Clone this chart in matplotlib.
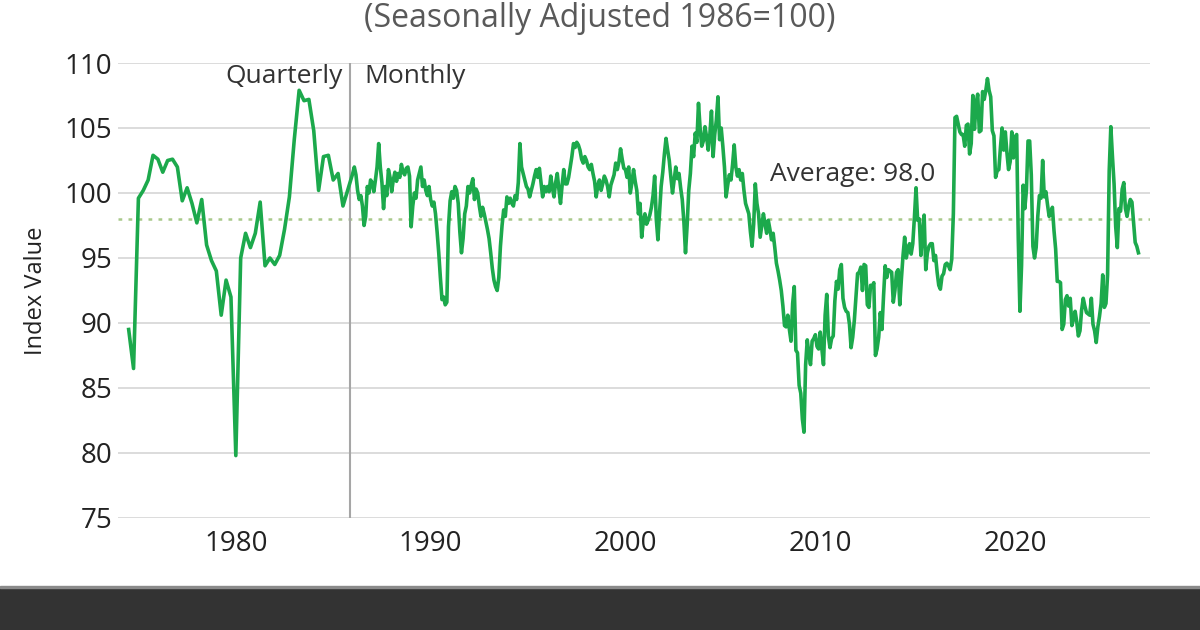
import numpy as np
import matplotlib.pyplot as plt
from matplotlib.patches import Rectangle

# Small business optimism index
# quarterly survey 1974-1985, monthly from Jan 1986
quarter_start = 1974.5
quarterly_values = [89.5, 86.5, 99.6, 100.2, 101.0, 102.9, 102.6, 101.6, 102.5, 102.6,
                    102.0, 99.4, 100.4, 99.2, 97.7, 99.5, 96.0, 94.8, 94.0, 90.6,
                    93.3, 92.0, 79.8, 95.0, 96.9, 95.8, 96.9, 99.3, 94.4, 95.0,
                    94.5, 95.2, 97.2, 99.7, 104.1, 107.9, 107.1, 107.2, 104.8, 100.2,
                    102.8, 102.9, 101.0, 101.5, 99.0]

month_start = 1986
monthly_values = [
    101.5, 102.0, 101.4, 100.2, 99.5, 99.8, 99.0, 97.5, 98.2, 100.5, 100.0, 101.0,   # 1986
    100.8, 100.1, 101.0, 102.0, 103.8, 102.0, 100.8, 98.8, 100.5, 99.8, 101.8, 101.2,  # 1987
    100.1, 101.0, 101.6, 100.9, 101.5, 101.2, 102.2, 101.6, 101.4, 101.9, 102.0, 101.3,  # 1988
    97.4, 99.0, 100.0, 99.6, 101.0, 101.5, 102.0, 100.5, 101.0, 100.2, 99.8, 100.5,   # 1989
    99.5, 99.0, 99.3, 98.4, 97.0, 95.4, 93.5, 91.8, 92.0, 91.4, 91.6, 97.4,          # 1990
    99.4, 100.1, 99.6, 100.5, 100.2, 99.2, 97.0, 95.4, 96.5, 98.4, 99.0, 100.5,       # 1991
    100.0, 100.6, 101.1, 99.5, 100.3, 100.0, 99.0, 98.2, 98.9, 98.4, 97.8, 97.2,      # 1992
    96.5, 95.4, 94.2, 93.3, 92.8, 92.5, 93.5, 95.9, 97.5, 98.7, 98.2, 99.7,           # 1993
    99.2, 99.6, 99.2, 99.0, 99.8, 99.5, 100.8, 103.8, 102.0, 101.5, 101.0, 100.5,     # 1994
    100.3, 99.7, 100.2, 100.7, 101.3, 101.8, 101.2, 101.9, 100.8, 99.7, 100.5, 100.1,  # 1995
    100.5, 100.1, 101.3, 100.4, 99.7, 100.8, 101.5, 100.3, 99.2, 100.6, 101.8, 100.7,  # 1996
    100.7, 101.2, 102.0, 102.8, 103.8, 103.5, 103.9, 103.7, 103.3, 102.6, 102.3, 102.8,  # 1997
    102.5, 102.0, 101.8, 102.2, 101.5, 100.9, 99.7, 100.6, 101.0, 100.2, 100.7, 101.3,  # 1998
    101.0, 100.5, 99.7, 100.6, 101.0, 101.4, 102.3, 101.8, 102.4, 103.4, 102.6, 101.9,  # 1999
    101.8, 101.2, 102.0, 100.0, 100.8, 101.8, 100.9, 100.2, 98.4, 99.2, 96.6, 97.8,    # 2000
    98.4, 97.6, 97.9, 98.3, 98.9, 99.8, 101.3, 98.0, 96.4, 98.5, 100.5, 101.6,         # 2001
    103.0, 104.2, 103.3, 102.5, 101.2, 100.0, 101.0, 102.0, 101.1, 101.5, 100.4, 99.5,  # 2002
    97.8, 95.4, 97.5, 100.2, 101.5, 103.6, 102.8, 104.6, 103.9, 106.9, 105.0, 103.6,   # 2003
    104.0, 105.1, 104.3, 103.3, 104.5, 106.3, 102.8, 104.5, 105.6, 107.4, 104.1, 105.0,  # 2004
    103.6, 102.0, 99.7, 100.6, 101.4, 101.0, 102.2, 103.7, 102.0, 101.3, 101.8, 101.0,  # 2005
    101.5, 100.2, 99.2, 98.8, 98.4, 97.0, 95.9, 97.6, 100.7, 99.2, 98.4, 96.6,         # 2006
    97.5, 98.4, 97.6, 96.9, 97.9, 97.2, 96.4, 96.9, 95.8, 94.6, 94.0, 93.3,            # 2007
    92.5, 91.3, 89.8, 89.7, 90.6, 89.5, 88.6, 91.5, 92.8, 87.9, 87.7, 85.2,            # 2008
    84.6, 82.6, 81.6, 86.8, 88.7, 87.6, 86.8, 88.6, 88.8, 89.1, 88.2, 88.0,            # 2009
    89.3, 88.0, 86.8, 90.6, 92.2, 89.0, 88.1, 88.8, 89.0, 91.7, 93.2, 92.6,            # 2010
    94.1, 94.5, 91.9, 91.2, 90.9, 90.8, 89.9, 88.1, 88.9, 90.2, 92.0, 93.8,            # 2011
    93.9, 94.3, 92.5, 94.5, 94.4, 91.4, 91.2, 92.9, 92.8, 93.1, 87.5, 88.0,            # 2012
    88.9, 90.8, 89.5, 92.1, 94.4, 93.5, 94.1, 94.0, 93.9, 91.6, 92.5, 93.9,            # 2013
    94.1, 91.4, 93.4, 95.2, 96.6, 95.0, 95.7, 96.1, 95.3, 96.1, 98.1, 100.4,           # 2014
    97.9, 98.0, 95.2, 96.9, 98.3, 94.1, 95.4, 95.9, 96.1, 96.1, 94.8, 95.2,            # 2015
    93.9, 92.9, 92.6, 93.6, 93.8, 94.5, 94.6, 94.4, 94.1, 94.9, 98.4, 105.8,           # 2016
    105.9, 105.3, 104.7, 104.5, 104.5, 103.6, 105.2, 105.3, 103.0, 103.8, 107.5, 104.9,  # 2017
    106.9, 107.6, 104.7, 104.8, 107.8, 107.2, 107.9, 108.8, 107.9, 107.4, 104.8, 104.4,  # 2018
    101.2, 101.7, 101.8, 103.5, 105.0, 103.3, 104.7, 103.1, 101.8, 102.4, 104.7, 102.7,  # 2019
    104.3, 104.5, 96.4, 90.9, 94.4, 100.6, 98.8, 100.2, 104.0, 104.0, 101.4, 95.9,     # 2020
    95.0, 95.8, 98.2, 99.8, 99.6, 102.5, 99.7, 100.1, 99.1, 98.2, 98.4, 98.9,          # 2021
    97.1, 95.7, 93.2, 93.2, 93.1, 89.5, 89.9, 91.8, 92.1, 91.3, 91.9, 89.8,            # 2022
    90.3, 90.9, 90.1, 89.0, 89.4, 91.0, 91.9, 91.3, 90.8, 90.7, 90.6, 91.9,            # 2023
    89.9, 89.4, 88.5, 89.7, 90.5, 91.5, 93.7, 91.2, 91.5, 93.7, 101.7, 105.1,          # 2024
    102.8, 100.7, 97.4, 95.8, 98.8, 98.6, 100.3, 100.8, 98.8, 98.2, 99.0, 99.5,        # 2025
    99.3, 97.8, 96.2, 95.9, 95.4,                                                      # 2026
]

average = 98.0
switch_year = 1985.85
x_ticks = [1980, 1990, 2000, 2010, 2020]
y_ticks = [75, 80, 85, 90, 95, 100, 105, 110]

plt.rcParams['font.family'] = ['Open Sans', 'DejaVu Sans']

q_x = quarter_start + 0.25 * np.arange(len(quarterly_values))
m_x = month_start + np.arange(len(monthly_values)) / 12
x = np.concatenate([q_x, m_x])
y = np.concatenate([quarterly_values, monthly_values])

fig = plt.figure(figsize=(12, 6.3), dpi=100)
ax = fig.add_axes([0.0983, 0.1778, 0.8604, 0.7222])

ax.plot(x, y, color='#1ca94c', lw=2.6, zorder=3)
ax.axhline(average, color='#a9c98b', lw=1.8, ls=(0, (1.5, 2.5)), zorder=2)
ax.axvline(switch_year, color='#a6a6a6', lw=1.5, zorder=2)

ax.text(switch_year - 0.35, 109.95, 'Quarterly', ha='right', va='top', fontsize=19, color='#333333')
ax.text(switch_year + 0.75, 109.95, 'Monthly', ha='left', va='top', fontsize=19, color='#333333')
ax.text(2007.4, 101.4, 'Average: 98.0', ha='left', va='center', fontsize=19, color='#333333')

ax.set_xlim(1973.95, 2026.95)
ax.set_ylim(75, 110)
ax.set_xticks(x_ticks)
ax.set_yticks(y_ticks)
ax.tick_params(axis='both', length=0, labelsize=20, colors='#222222')
ax.tick_params(axis='x', pad=9)
ax.tick_params(axis='y', pad=4)
ax.grid(axis='y', color='#d9d9d9', lw=1.3, zorder=0)
for s in ax.spines.values():
    s.set_visible(False)

ax.set_ylabel('Index Value', fontsize=17, color='#222222')
ax.yaxis.set_label_coords(-0.068, 0.5)

fig.text(0.5, 0.997, '(Seasonally Adjusted 1986=100)', ha='center', va='top',
         fontsize=23, color='#595959')

# dark footer strip
fig.patches.append(Rectangle((0, 0), 1, 42 / 630, transform=fig.transFigure,
                             color='#333333', zorder=0))
fig.patches.append(Rectangle((0, 42 / 630), 1, 2 / 630, transform=fig.transFigure,
                             color='#8a8a8a', zorder=0))

fig.savefig('out.png', dpi=100)
